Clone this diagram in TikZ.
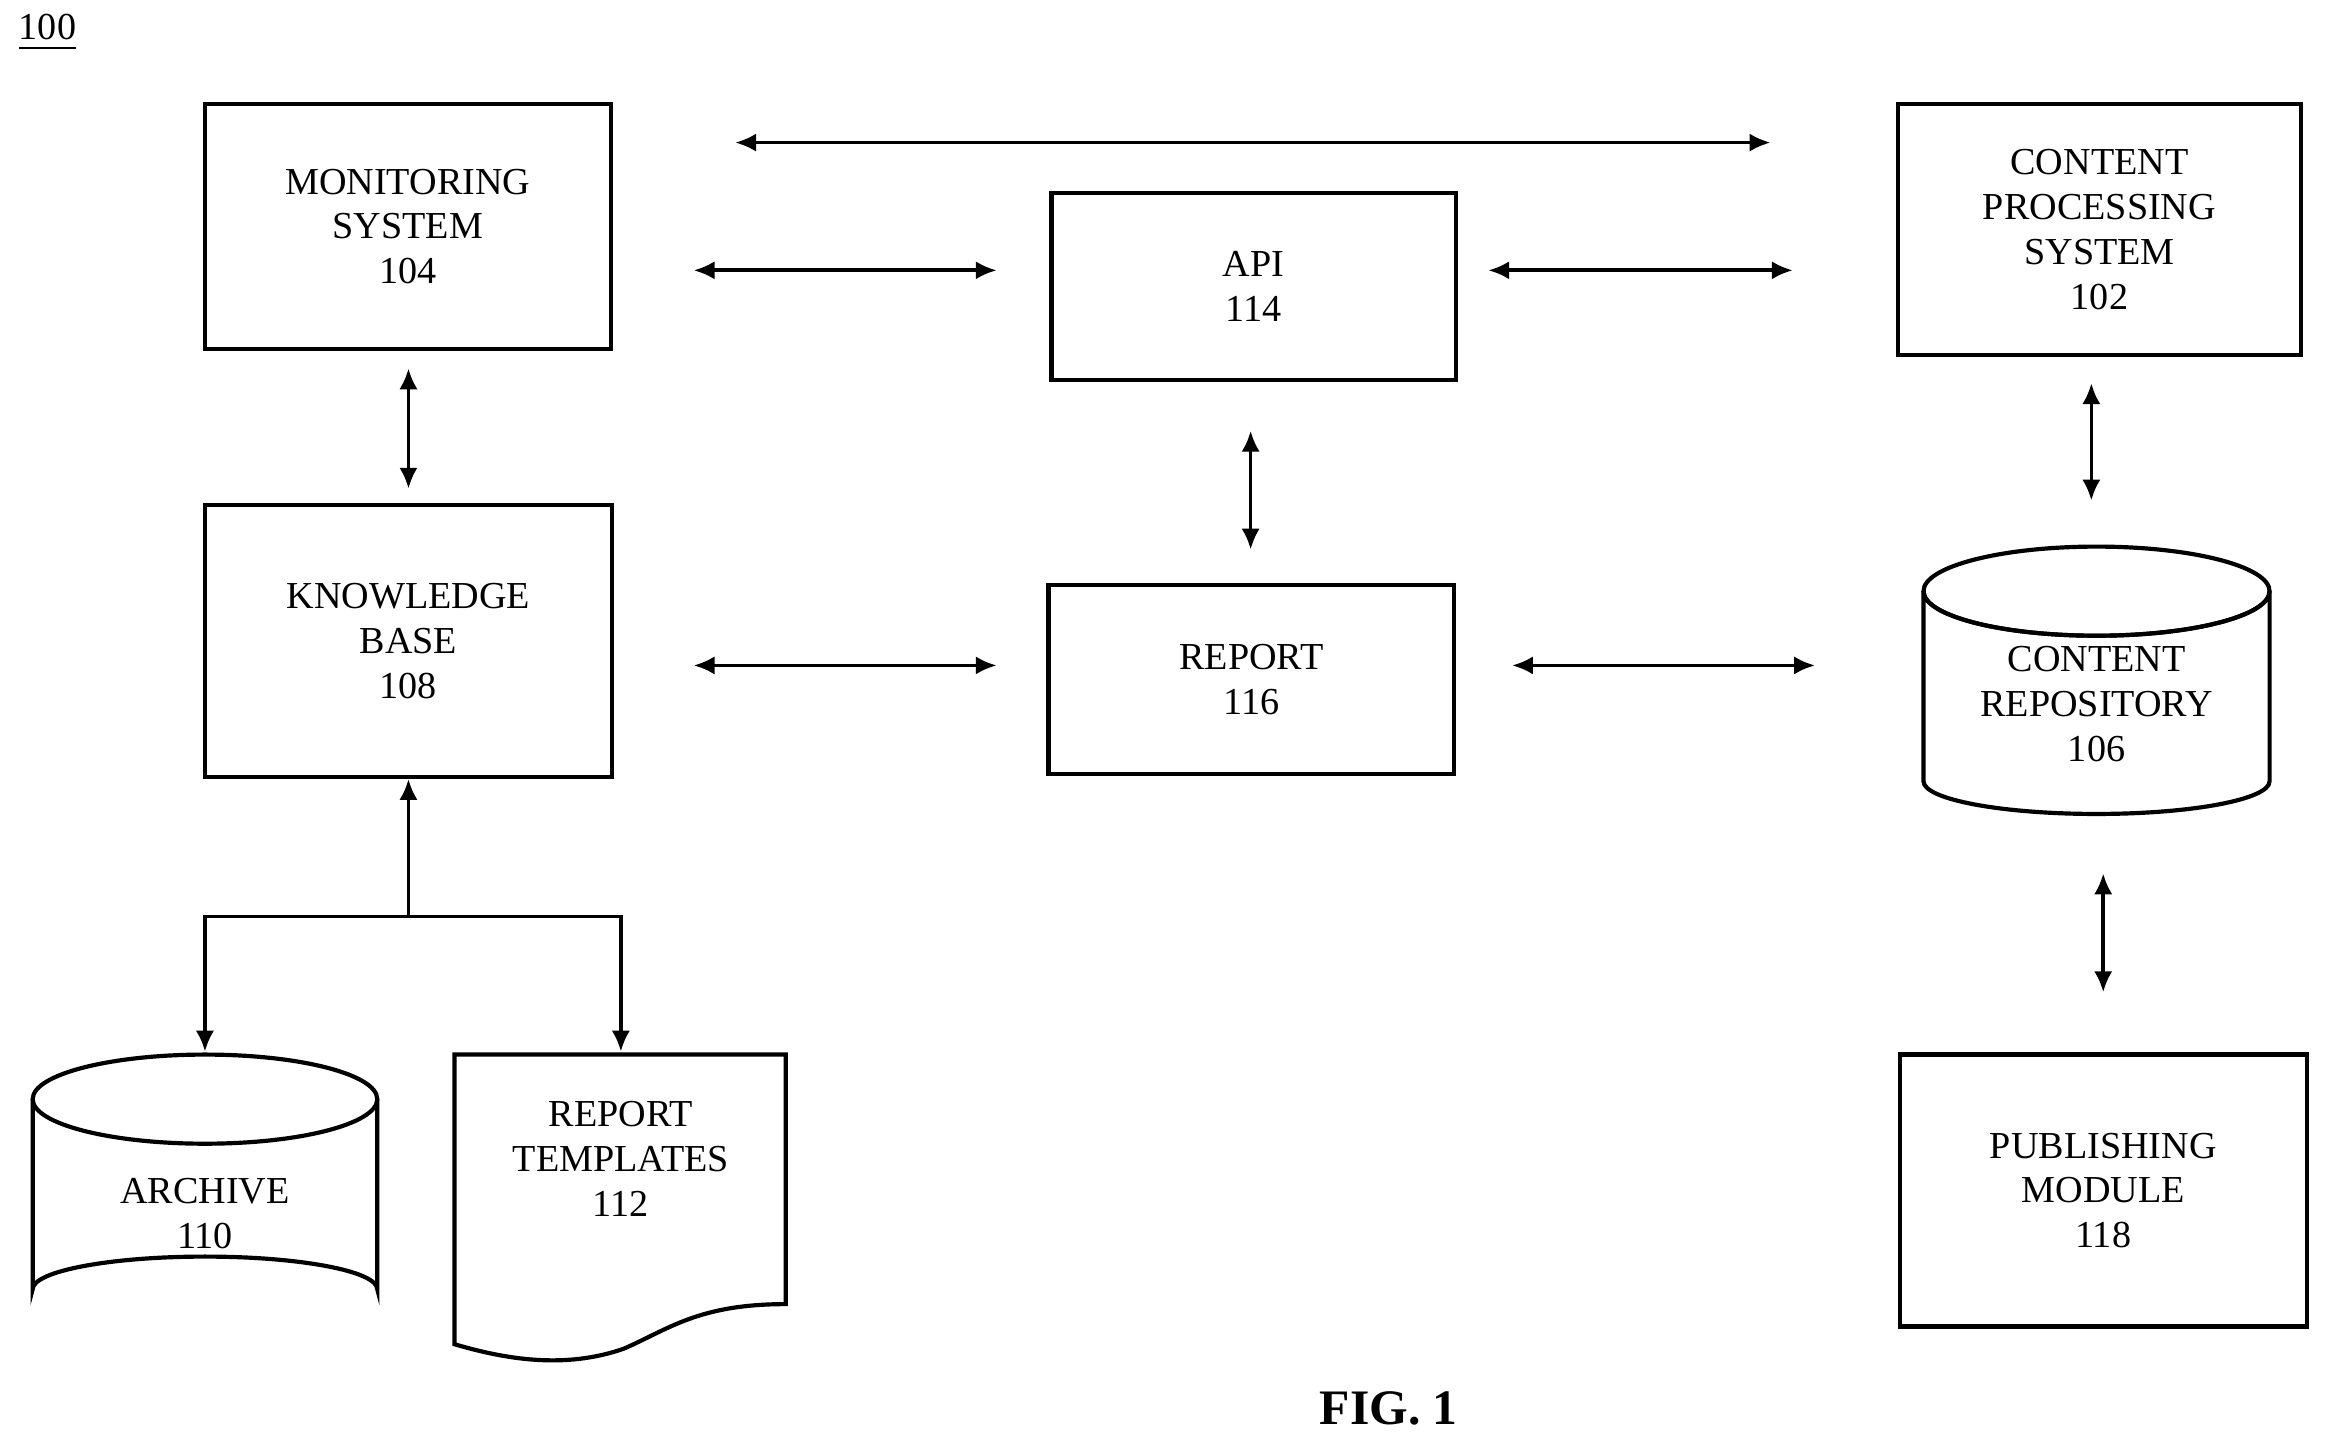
\documentclass[tikz,border=0pt]{standalone}
\usepackage{fontspec}
\setmainfont{Liberation Serif}
\usetikzlibrary{arrows.meta}
\begin{document}
\begin{tikzpicture}[x=0.01cm,y=-0.01cm,
  box/.style={draw,line width=0.8pt,align=center,inner sep=0pt,font=\fontsize{7.3}{8.6}\selectfont},
  lbl/.style={align=center,font=\fontsize{7.3}{8.6}\selectfont},
  arr/.style={line width=0.7pt,{Latex[length=4pt,width=3.5pt]}-{Latex[length=4pt,width=3.5pt]}},
  one/.style={line width=0.7pt,-{Latex[length=4pt,width=3.5pt]}}]
\useasboundingbox (0,0) rectangle (1568,973);
\node[lbl,anchor=center] (n100) at (32,22) {\underline{100}};
\node[box,minimum width=2.73cm,minimum height=1.65cm] (mon) at (274.5,152.5) {MONITORING\\SYSTEM\\104};
\node[box,minimum width=2.72cm,minimum height=1.26cm] (api) at (844,193) {API\\114};
\node[box,minimum width=2.71cm,minimum height=1.69cm] (cps) at (1413.5,154.5) {CONTENT\\PROCESSING\\SYSTEM\\102};
\node[box,minimum width=2.74cm,minimum height=1.83cm] (kb) at (275,431.5) {KNOWLEDGE\\BASE\\108};
\node[box,minimum width=2.73cm,minimum height=1.27cm] (rep) at (842.5,457.5) {REPORT\\116};
\node[box,minimum width=2.74cm,minimum height=1.83cm] (pub) at (1416,801.5) {PUBLISHING\\MODULE\\118};
% cylinders
\draw[line width=0.8pt] (1295,398) arc[start angle=180,end angle=360,x radius=116.5,y radius=-30] -- (1528,526) arc[start angle=0,end angle=-180,x radius=116.5,y radius=-22] -- cycle;
\draw[line width=0.8pt] (1411.5,398) ellipse[x radius=116.5,y radius=30];
\node[lbl] (repo) at (1411.5,474) {CONTENT\\REPOSITORY\\106};
\draw[line width=0.8pt] (22,740) -- (22,868) arc[start angle=180,end angle=360,x radius=116,y radius=22] -- (254,740);
\draw[line width=0.8pt] (138,740) ellipse[x radius=116,y radius=30];
\node[lbl] (arch) at (138,817) {ARCHIVE\\110};
% document
\draw[line width=0.8pt] (306,710) -- (529,710) -- (529,878) .. controls (470,878) and (450,895) .. (420,908) .. controls (380,922) and (340,915) .. (306,905) -- cycle;
\node[lbl] (tmp) at (418,780) {REPORT\\TEMPLATES\\112};
\node[font=\bfseries\fontsize{9.5}{11}\selectfont] (fig) at (935,948) {FIG. 1};
% arrows
\coordinate (a1) at (495,96); \coordinate (a2) at (1192,96);
\draw[arr] (a1) -- (a2);
\coordinate (b1) at (467,182); \coordinate (b2) at (671,182);
\draw[arr] (b1) -- (b2);
\coordinate (c1) at (1002,182); \coordinate (c2) at (1207,182);
\draw[arr] (c1) -- (c2);
\coordinate (d1) at (275,248); \coordinate (d2) at (275,329);
\draw[arr] (d1) -- (d2);
\coordinate (e1) at (842,290); \coordinate (e2) at (842,370);
\draw[arr] (e1) -- (e2);
\coordinate (f1) at (1408,258); \coordinate (f2) at (1408,337);
\draw[arr] (f1) -- (f2);
\coordinate (g1) at (467,448); \coordinate (g2) at (671,448);
\draw[arr] (g1) -- (g2);
\coordinate (h1) at (1018,448); \coordinate (h2) at (1222,448);
\draw[arr] (h1) -- (h2);
\coordinate (i1) at (1416,588); \coordinate (i2) at (1416,668);
\draw[arr] (i1) -- (i2);
\coordinate (j) at (275,617); \coordinate (jl) at (138,617); \coordinate (jr) at (418,617);
\draw[one] (j) -- (kb.south);
\draw[one] (j) -- (jl) -- (138,708);
\draw[one] (j) -- (jr) -- (418,708);
\end{tikzpicture}
\end{document}
